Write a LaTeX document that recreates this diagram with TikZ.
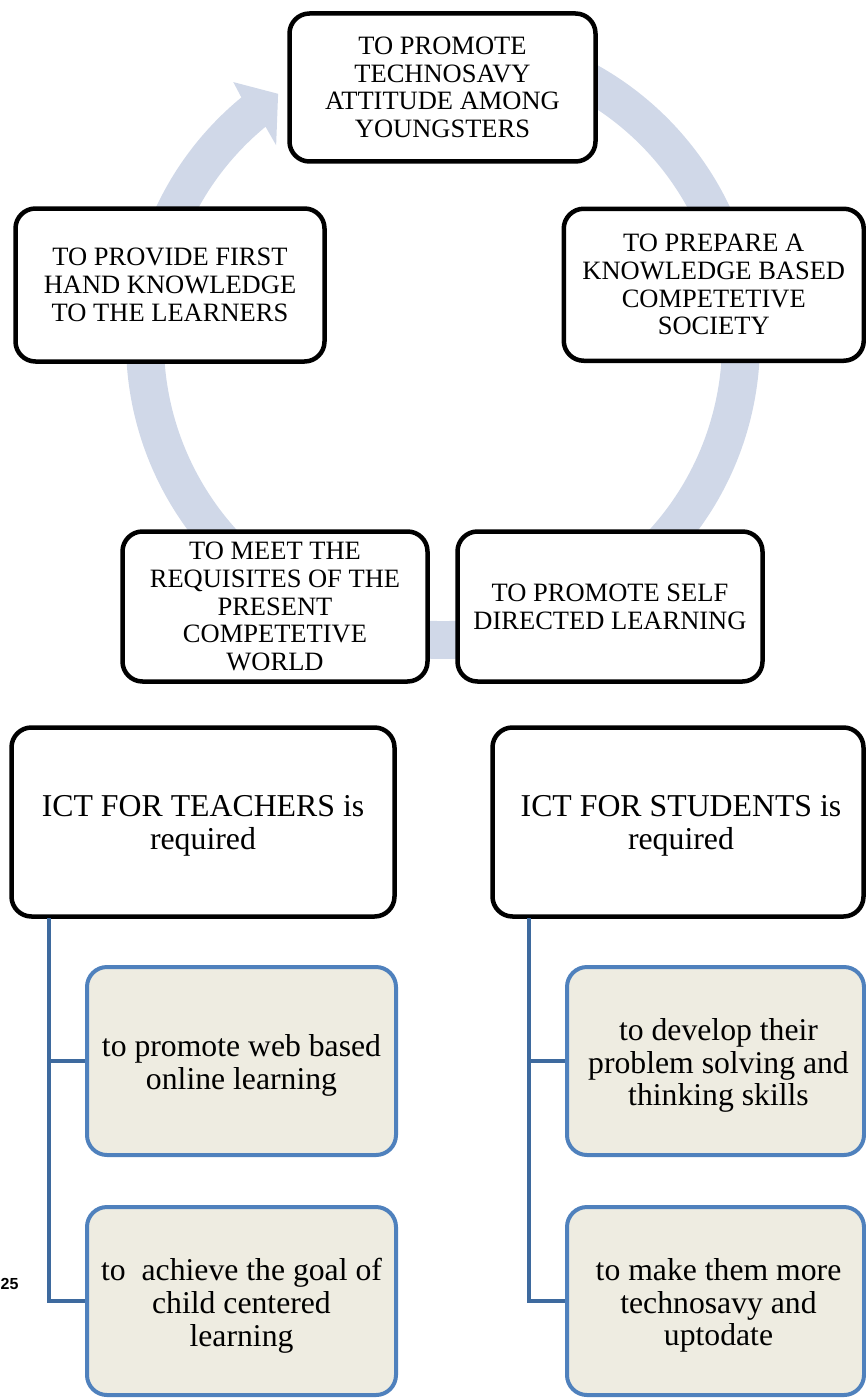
\documentclass[tikz,border=0pt]{standalone}
\usepackage{fontspec}
\setmainfont{Liberation Serif}
\newfontfamily\pgnumfont{Liberation Sans}
\usetikzlibrary{calc}
\definecolor{ringc}{HTML}{D0D8E8}
\definecolor{subfill}{HTML}{EEECE1}
\definecolor{subdraw}{HTML}{4F81BD}
\definecolor{connc}{HTML}{3E6A9E}
\tikzset{
  cyc/.style={draw=black, line width=4.5pt, rounded corners=20pt, fill=white,
    align=center, inner sep=0pt, font=\fontsize{26.5}{27.7}\selectfont},
  bigbox/.style={draw=black, line width=4.5pt, rounded corners=20pt, fill=white,
    align=center, inner sep=0pt, font=\fontsize{31.8}{33}\selectfont},
  subbox/.style={draw=subdraw, line width=4pt, rounded corners=20pt, fill=subfill,
    align=center, inner sep=0pt, font=\fontsize{31.7}{32.8}\selectfont},
  conn/.style={draw=connc, line width=4.5pt},
  lowtext/.style={label={[align=center, inner sep=0pt, font=#1, yshift=-4pt]center:}}
}
\begin{document}
\begin{tikzpicture}[x=1pt,y=-1pt]
\useasboundingbox (0,0) rectangle (866,1399);
% circular arrow
\coordinate (C) at (443,342);
\fill[ringc] ($(C)+(-129.5:317)$) arc[start angle=-129.5, end angle=-435, radius=317]
  -- ($(C)+(-435:279)$) arc[start angle=-435, end angle=-129.5, radius=279]
  -- ($(C)+(-130.3:258)$) -- ($(C)+(-123.6:298)$) -- ($(C)+(-128.9:334)$) -- cycle;
% cycle boxes
\node[cyc, minimum width=306pt, minimum height=148pt] (top) at (442.5,87.5)
  {TO PROMOTE\\TECHNOSAVY\\ATTITUDE AMONG\\YOUNGSTERS};
\node[cyc, minimum width=300pt, minimum height=152pt] (right) at (713.75,284.75)
  {TO PREPARE A\\KNOWLEDGE BASED\\COMPETETIVE\\SOCIETY};
\node[cyc, minimum width=309pt, minimum height=153pt] (left) at (170,285)
  {TO PROVIDE FIRST\\HAND KNOWLEDGE\\TO THE LEARNERS};
\node[cyc, minimum width=305pt, minimum height=150pt] (bl) at (275,606.5)
  {TO MEET THE\\REQUISITES OF THE\\PRESENT\\COMPETETIVE\\WORLD};
\node[cyc, minimum width=305pt, minimum height=150pt] (br) at (610,606.5)
  {TO PROMOTE SELF\\DIRECTED LEARNING};
% hierarchy boxes (shapes), texts placed slightly lower
\node[bigbox, minimum width=383pt, minimum height=189pt] (bigL) at (203,822) {};
\node[bigbox, minimum width=371pt, minimum height=189pt] (bigR) at (678,822) {};
\node[subbox, minimum width=309pt, minimum height=188pt] (subL1) at (241.5,1061) {};
\node[subbox, minimum width=309pt, minimum height=188pt] (subL2) at (241.5,1301) {};
\node[subbox, minimum width=297pt, minimum height=188pt] (subR1) at (715.5,1061) {};
\node[subbox, minimum width=297pt, minimum height=188pt] (subR2) at (715.5,1301) {};
\tikzset{bigtxt/.style={align=center, inner sep=0pt, font=\fontsize{31.8}{33}\selectfont, yshift=-4pt},
         subtxt/.style={align=center, inner sep=0pt, font=\fontsize{31.7}{32.8}\selectfont, yshift=-4.5pt}}
\node[bigtxt] (bigLt) at (bigL.center) {ICT FOR TEACHERS is\\required};
\node[bigtxt] (bigRt) at ([xshift=3pt]bigR.center) {ICT FOR STUDENTS is\\required};
\node[subtxt] (subL1t) at (subL1.center) {to promote web based\\online learning};
\node[subtxt] (subL2t) at (subL2.center) {to~~achieve the goal of\\child centered\\learning};
\node[subtxt] (subR1t) at ([xshift=3pt]subR1.center) {to develop their\\problem solving and\\thinking skills};
\node[subtxt] (subR2t) at ([xshift=3pt]subR2.center) {to make them more\\technosavy and\\uptodate};
\coordinate (tL) at (49,918);
\coordinate (tR) at (529,918);
\draw[conn] (tL) |- (subL1.west);
\draw[conn] (tL) |- (subL2.west);
\draw[conn] (tR) |- (subR1.west);
\draw[conn] (tR) |- (subR2.west);
% page number fragment
\node[anchor=west, inner sep=0pt, font=\pgnumfont\bfseries\fontsize{16}{16}\selectfont] (pg) at (0.5,1284) {25};
\end{tikzpicture}
\end{document}
